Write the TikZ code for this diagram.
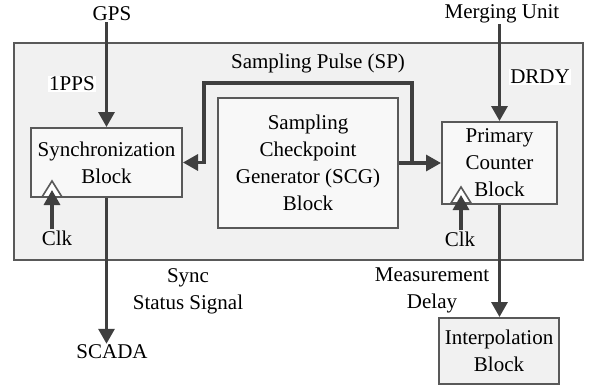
\documentclass[tikz,border=0pt]{standalone}
\usepackage{fontspec}
\setmainfont{Liberation Serif}
\usetikzlibrary{arrows.meta}
\definecolor{linec}{HTML}{3F3F3F}
\definecolor{boxc}{HTML}{595959}
\definecolor{outerfill}{HTML}{F1F1F1}
\definecolor{innerfill}{HTML}{F8F8F8}
\begin{document}
\begin{tikzpicture}[x=1pt,y=-1pt,
  every node/.style={font=\fontsize{21}{27}\selectfont, text=black},
  blockbox/.style={draw=boxc, line width=2pt, fill=innerfill, align=center, inner sep=0pt},
  lbl/.style={inner sep=1pt, align=center},
  wlbl/.style={inner sep=1pt, align=center, fill=white},
  arr/.style={draw=linec, line width=3.2pt, -{Triangle[length=15pt,width=16pt]}},
  tri/.style={draw=boxc, line width=1.6pt, fill=white, line join=miter}]
\useasboundingbox (0,0) rectangle (592,389);
% outer box
\node[draw=boxc, line width=2pt, fill=outerfill, minimum width=569pt, minimum height=217pt, inner sep=0pt] (outer) at (298.5,151.5) {};
% blocks
\node[blockbox, minimum width=151pt, minimum height=69pt] (sync) at (106.5,162.5) {Synchronization\\Block};
\node[blockbox, minimum width=180pt, minimum height=130pt] (scg) at (308,163) {Sampling\\Checkpoint\\Generator (SCG)\\Block};
\node[blockbox, minimum width=115pt, minimum height=82pt] (prim) at (499.5,163) {Primary\\Counter\\Block};
\node[blockbox, fill=outerfill, minimum width=120pt, minimum height=66pt] (interp) at (499,351) {Interpolation\\Block};
% labels
\node[lbl] (gps) at (112,14) {GPS};
\node[lbl] (mu) at (502,14) {Merging Unit};
\node[wlbl] (pps) at (72,84) {1PPS};
\node[lbl] (sp) at (318,63) {Sampling Pulse (SP)};
\node[wlbl] (drdy) at (540,77) {DRDY};
\node[lbl] (clka) at (57,238) {Clk};
\node[lbl] (clkb) at (460,239) {Clk};
\node[wlbl] (sss) at (188,291) {Sync\\Status Signal};
\node[wlbl] (md) at (432,290) {Measurement\\Delay};
\node[lbl] (scada) at (112,352) {SCADA};
% clock triangles
\draw[tri] (42,197) -- (52,181) -- (62,197) -- cycle;
\draw[tri] (451,203) -- (461,187) -- (471,203) -- cycle;
\coordinate (ta) at (52,190);
\coordinate (tb) at (461,195);
\draw[arr] (clka.north -| ta) -- (ta);
\draw[arr] (clkb.north -| tb) -- (tb);
% connectors
\draw[arr] (gps.south -| sync.north) -- (sync.north);
\draw[arr] (mu.south -| prim.north) -- (prim.north);
\draw[arr] (scg.east) -- (prim.west);
\coordinate (j) at (412,163);
\coordinate (k) at (204,83);
\draw[arr] (j) |- (k) |- (sync.east);
\draw[arr] (sync.south) -- (sync.south |- scada.north);
\draw[arr] (prim.south) -- (prim.south |- interp.north);
\end{tikzpicture}
\end{document}
